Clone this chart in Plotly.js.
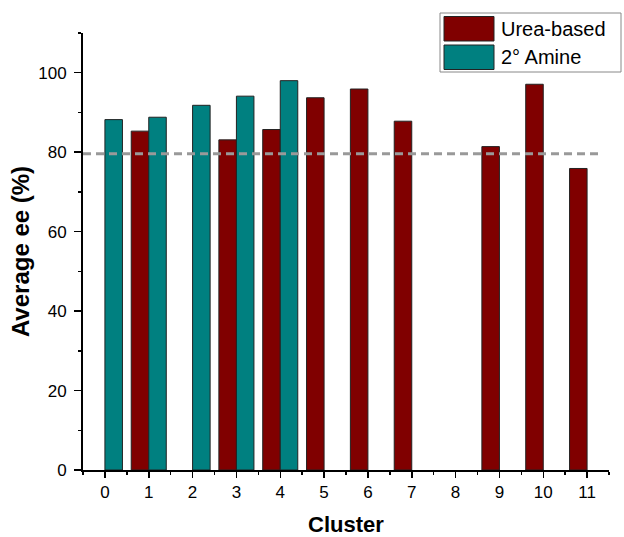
<!DOCTYPE html>
<html>
<head>
<meta charset="utf-8">
<script src="https://cdn.plot.ly/plotly-3.0.1.min.js"></script>
<style>html,body{margin:0;padding:0;background:#fff;}#chart{width:624px;height:537px;}</style>
</head>
<body>
<div id="chart"></div>
<script>
const clusters = [0,1,2,3,4,5,6,7,8,9,10,11];
const tickLabels = ["0","1","2","3","4","5","6","7","8","9","10","11"];
const ureaBased = [null, 85.3, null, 83.1, 85.7, 93.7, 95.9, 87.8, null, 81.4, 97.1, 75.9];
const amine2 = [88.2, 88.8, 91.8, 94.1, 98.0, null, null, null, null, null, null, null];
const refLineX = [-0.5, 11.27];
const refLineY = [79.6, 79.6];
const seriesNames = ["Urea-based", "2° Amine"];

const FONT = '"Liberation Sans", Arial, sans-serif';
const L = 83, R = 609, T = 33, B = 470;
const px = v => (v - L) / (R - L);
const py = v => (B - v) / (B - T);

const traces = [
  {type:'bar', x:clusters, y:ureaBased, name:seriesNames[0],
   marker:{color:'#800000', line:{color:'#222', width:1}}},
  {type:'bar', x:clusters, y:amine2, name:seriesNames[1],
   marker:{color:'#008080', line:{color:'#222', width:1}}},
  {type:'scatter', mode:'lines', x:refLineX, y:refLineY, showlegend:false,
   line:{color:'#999999', width:3, dash:'8px,5px'}, hoverinfo:'skip'}
];

const layout = {
  width:624, height:537,
  margin:{l:L, r:624-R, t:T, b:537-B, pad:0},
  paper_bgcolor:'#fff', plot_bgcolor:'#fff',
  barmode:'group', bargap:0.2, bargroupgap:0,
  showlegend:false,
  font:{family:FONT, color:'#000'},
  xaxis:{
    range:[-0.5, 11.5], tickmode:'array', tickvals:clusters, ticktext:tickLabels,
    showgrid:false, zeroline:false, showline:true, linecolor:'#000', linewidth:2,
    ticks:'outside', ticklen:6, tickwidth:1.5, tickcolor:'#000',
    tickfont:{family:FONT, size:17, color:'#000'},
    minor:{tickmode:'array', tickvals:[-0.5,0.5,1.5,2.5,3.5,4.5,5.5,6.5,7.5,8.5,9.5,10.5,11.5], ticks:'outside', ticklen:3, tickwidth:1.5, tickcolor:'#000', showgrid:false},
    title:{text:'<b>Cluster</b>', font:{family:FONT, size:22, color:'#000'}, standoff:20}
  },
  yaxis:{
    range:[0, 110], tickmode:'array', tickvals:[0,20,40,60,80,100],
    showgrid:false, zeroline:false, showline:true, linecolor:'#000', linewidth:2,
    ticks:'outside', ticklen:7, tickwidth:1.5, tickcolor:'#000', ticklabelstandoff:4,
    tickfont:{family:FONT, size:17, color:'#000'},
    minor:{tickmode:'array', tickvals:[10,30,50,70,90,110], ticks:'outside', ticklen:3, tickwidth:1.5, tickcolor:'#000', showgrid:false},
    title:{text:'<b>Average ee (%)</b>', font:{family:FONT, size:24, color:'#000'}, standoff:2}
  },
  shapes:[
    {type:'rect', xref:'paper', yref:'paper', x0:px(440), x1:px(621), y0:py(72), y1:py(13),
     line:{color:'#888', width:1}, fillcolor:'rgba(0,0,0,0)'},
    {type:'rect', xref:'paper', yref:'paper', x0:px(444), x1:px(494), y0:py(41), y1:py(16.5),
     line:{color:'#222', width:1}, fillcolor:'#800000'},
    {type:'rect', xref:'paper', yref:'paper', x0:px(444), x1:px(494), y0:py(69.5), y1:py(45),
     line:{color:'#222', width:1}, fillcolor:'#008080'}
  ],
  annotations:[
    {xref:'paper', yref:'paper', x:px(499), y:py(29), xanchor:'left', yanchor:'middle', showarrow:false,
     text:seriesNames[0], font:{family:FONT, size:20, color:'#000'}},
    {xref:'paper', yref:'paper', x:px(499), y:py(57.5), xanchor:'left', yanchor:'middle', showarrow:false,
     text:seriesNames[1], font:{family:FONT, size:20, color:'#000'}}
  ]
};

Plotly.newPlot('chart', traces, layout, {displayModeBar:false, staticPlot:true});
</script>
</body>
</html>
